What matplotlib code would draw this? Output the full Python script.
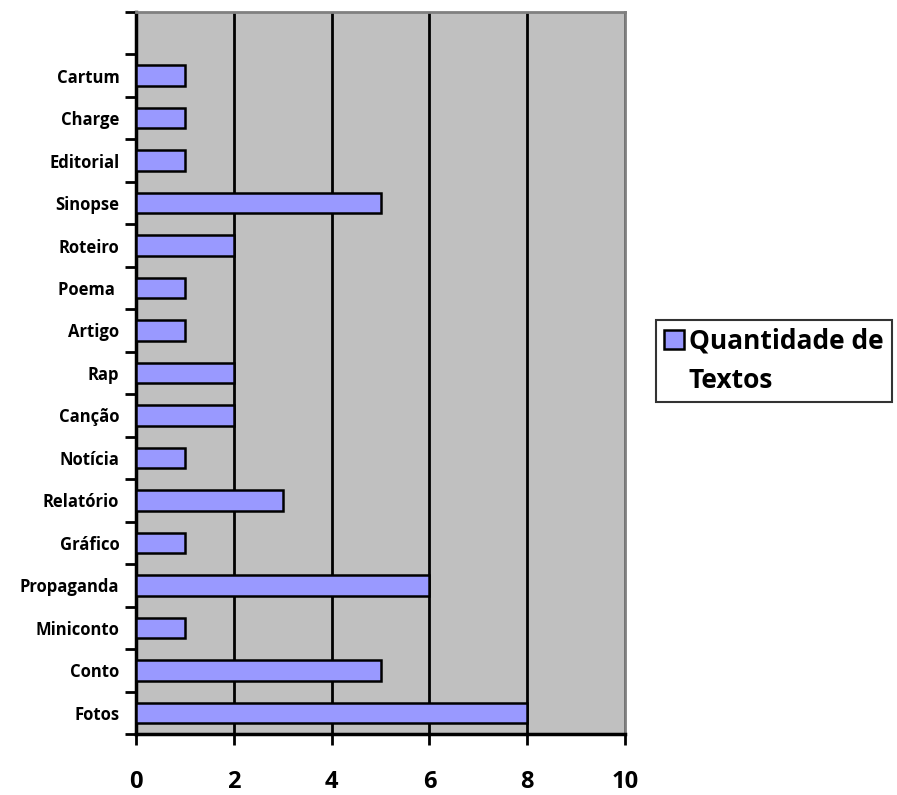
import numpy as np
import matplotlib
matplotlib.use("Agg")
from matplotlib import pyplot as plt
from matplotlib.patches import Rectangle
from matplotlib.ticker import FixedLocator

# data (bottom to top)
categorias = ["Fotos", "Conto", "Miniconto", "Propaganda", "Gráfico", "Relatório",
              "Notícia", "Canção", "Rap", "Artigo", "Poema ", "Roteiro", "Sinopse",
              "Editorial", "Charge", "Cartum"]
quantidade = [8, 5, 1, 6, 1, 3, 1, 2, 2, 1, 1, 2, 5, 1, 1, 1]
xticks = [0, 2, 4, 6, 8, 10]
serie = ["Quantidade de", "Textos"]

plt.rcParams['font.family'] = ['Open Sans', 'DejaVu Sans']

fig = plt.figure(figsize=(8.97, 7.95), dpi=100)
ax = fig.add_axes([0.1516, 0.0767, 0.5452, 0.9083])
ax.set_facecolor("#c0c0c0")

y = np.arange(len(categorias))
barras = ax.barh(y, quantidade, height=0.48, color="#9999ff", edgecolor="black",
                 linewidth=1.8, zorder=3)

ax.set_xlim(0, 10)
ax.set_ylim(-0.5, len(categorias) + 0.5)
ax.set_xticks(xticks)
ax.set_xticklabels([str(t) for t in xticks], fontsize=17, fontweight="bold")
ax.tick_params(axis="x", length=8, width=2, pad=18, direction="out")

ax.set_yticks(y)
ax.set_yticklabels(categorias, fontsize=12, fontweight="bold")
ax.tick_params(axis="y", which="major", length=0, pad=12)
ax.yaxis.set_minor_locator(FixedLocator(np.arange(-0.5, len(categorias) + 1, 1)))
ax.tick_params(axis="y", which="minor", length=8, width=2, direction="out")

ax.grid(axis="x", color="black", linewidth=2, zorder=1)
ax.set_axisbelow(True)

ax.spines["left"].set_linewidth(2.5)
ax.spines["bottom"].set_linewidth(2.5)
ax.spines["top"].set_color("#808080")
ax.spines["right"].set_color("#808080")
ax.spines["top"].set_linewidth(2)
ax.spines["right"].set_linewidth(2)

# legend: handle sits next to the first line only
vazio = Rectangle((0, 0), 1, 1, visible=False)
leg = fig.legend([barras, vazio], serie, loc="upper left",
                 bbox_to_anchor=(656 / 897, 1 - 320 / 795),
                 prop={"size": 19, "weight": "bold"}, frameon=True, fancybox=False,
                 handlelength=0.75, handleheight=0.75, handletextpad=0.2,
                 borderpad=0.3, labelspacing=0.45, borderaxespad=0)
leg.get_frame().set_edgecolor("black")
leg.get_frame().set_linewidth(1.5)

fig.savefig("out.png", dpi=100)
